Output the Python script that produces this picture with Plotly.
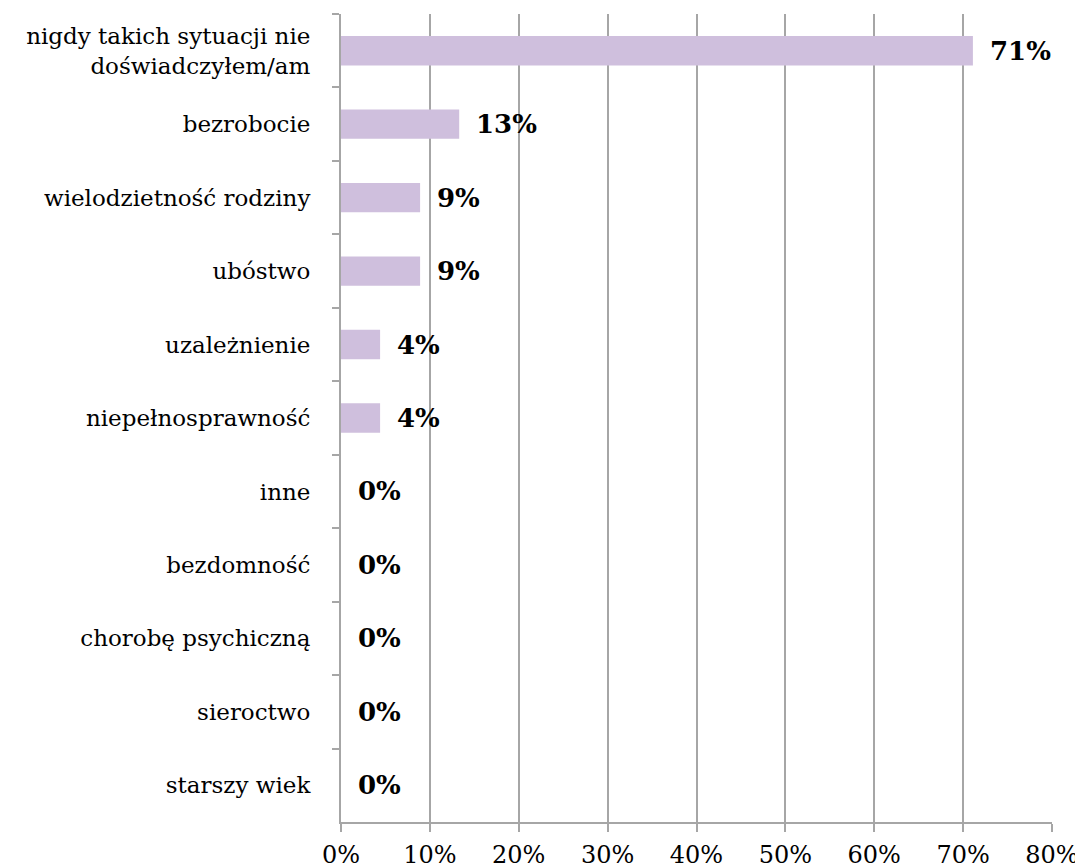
import plotly.graph_objects as go

categories = [
    "nigdy takich sytuacji nie<br>doświadczyłem/am",
    "bezrobocie",
    "wielodzietność rodziny",
    "ubóstwo",
    "uzależnienie",
    "niepełnosprawność",
    "inne",
    "bezdomność",
    "chorobę psychiczną",
    "sieroctwo",
    "starszy wiek",
]
values = [71.1, 13.3, 8.9, 8.9, 4.4, 4.4, 0, 0, 0, 0, 0]
labels = ["71%", "13%", "9%", "9%", "4%", "4%", "0%", "0%", "0%", "0%", "0%"]
x_ticks = [0, 10, 20, 30, 40, 50, 60, 70, 80]
x_tick_text = [f"{t}%" for t in x_ticks]

FONT = "DejaVu Serif"

fig = go.Figure()
fig.add_trace(go.Bar(
    y=categories, x=values, orientation="h",
    marker=dict(color="#cfbfdd", line=dict(width=0)),
    width=0.4, hoverinfo="skip",
))
for c, v, t in zip(categories, values, labels):
    fig.add_annotation(x=v, y=c, text=f"<b>{t}</b>", showarrow=False,
                       xanchor="left", yanchor="middle", xshift=15,
                       font=dict(family=FONT, size=26, color="black"))

fig.update_layout(
    width=1083, height=868,
    margin=dict(l=333, r=39, t=6, b=54),
    paper_bgcolor="white", plot_bgcolor="white",
    showlegend=False,
    font=dict(family=FONT, size=23, color="black"),
    xaxis=dict(range=[0, 80], tickvals=x_ticks, ticktext=x_tick_text,
               showgrid=True, gridcolor="#a6a6a6", gridwidth=2,
               showline=True, linecolor="#a6a6a6", linewidth=2,
               ticks="outside", ticklen=8, tickcolor="#a6a6a6", tickwidth=2,
               zeroline=False, ticklabelstandoff=2,
               tickfont=dict(family=FONT, size=24)),
    yaxis=dict(categoryorder="array", categoryarray=categories,
               autorange="reversed", showgrid=False,
               showline=True, linecolor="#a6a6a6", linewidth=2,
               ticks="outside", ticklen=7, tickcolor="#a6a6a6", tickwidth=2,
               tickson="boundaries", ticklabelstandoff=24,
               tickfont=dict(family=FONT, size=23)),
)
fig.write_html("out.html")
